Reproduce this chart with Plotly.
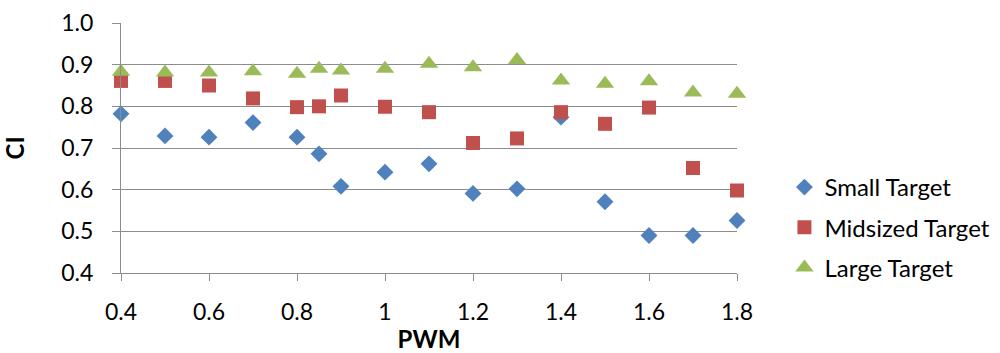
import plotly.graph_objects as go

pwm = [0.4, 0.5, 0.6, 0.7, 0.8, 0.85, 0.9, 1.0, 1.1, 1.2, 1.3, 1.4, 1.5, 1.6, 1.7, 1.8]
small_target = [0.782, 0.729, 0.726, 0.761, 0.726, 0.686, 0.608, 0.642, 0.662, 0.591,
                0.602, 0.774, 0.571, 0.490, 0.490, 0.526]
midsized_target = [0.861, 0.861, 0.850, 0.819, 0.798, 0.800, 0.826, 0.799, 0.786, 0.712,
                   0.723, 0.786, 0.758, 0.797, 0.652, 0.598]
large_target = [0.883, 0.881, 0.881, 0.884, 0.878, 0.890, 0.886, 0.890, 0.902, 0.894,
                0.911, 0.862, 0.854, 0.860, 0.833, 0.830]

x_ticks = [0.4, 0.6, 0.8, 1.0, 1.2, 1.4, 1.6, 1.8]
x_tick_text = ["0.4", "0.6", "0.8", "1", "1.2", "1.4", "1.6", "1.8"]
y_ticks = [0.4, 0.5, 0.6, 0.7, 0.8, 0.9, 1.0]
y_tick_text = ["0.4", "0.5", "0.6", "0.7", "0.8", "0.9", "1.0"]

FONT = "Lato, 'Open Sans', sans-serif"
GRID = "#8c8c8c"

series = [
    ("Small Target", small_target, "diamond", "#4F81BD", 13),
    ("Midsized Target", midsized_target, "square", "#C0504D", 14),
    ("Large Target", large_target, "triangle-up", "#9BBB59", 16),
]

fig = go.Figure()
for name, vals, sym, col, sz in series:
    fig.add_trace(go.Scatter(
        x=pwm, y=vals, mode="markers", name=name, legendgroup=name,
        cliponaxis=False,
        marker=dict(symbol=sym, color=col, size=sz, line=dict(width=0)),
    ))

fig.update_layout(
    width=1000, height=353,
    margin=dict(l=121, r=263, t=23, b=80, autoexpand=False),
    paper_bgcolor="white", plot_bgcolor="white",
    font=dict(family=FONT, size=23, color="#000000"),
    legend=dict(
        x=1.077, y=0.432, xanchor="left", yanchor="top",
        font=dict(size=24), tracegroupgap=6,
        itemwidth=30, bgcolor="rgba(0,0,0,0)",
    ),
    xaxis=dict(
        range=[0.4, 1.8], tickvals=x_ticks, ticktext=x_tick_text,
        showgrid=False, zeroline=False,
        showline=True, linecolor=GRID, linewidth=1,
        ticks="outside", ticklen=7, tickcolor=GRID, tickwidth=1,
        ticklabelstandoff=11,
        title=dict(text="<b>PWM</b>", font=dict(size=24), standoff=2),
    ),
    yaxis=dict(
        range=[0.4, 1.0], tickvals=y_ticks, ticktext=y_tick_text,
        showgrid=True, gridcolor=GRID, gridwidth=1, zeroline=False,
        showline=True, linecolor=GRID, linewidth=1,
        ticks="outside", ticklen=8, tickcolor=GRID, tickwidth=1,
        ticklabelstandoff=14,
        title=dict(text="<b>CI</b>", font=dict(size=24), standoff=30),
    ),
)

fig.write_html("out.html")
